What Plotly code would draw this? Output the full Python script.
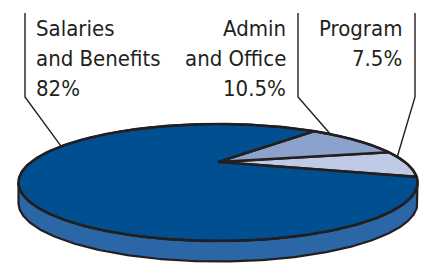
import numpy as np
import plotly.graph_objects as go

# ---- data ----
categories = ["Program", "Admin and Office", "Salaries and Benefits"]
values = [7.5, 10.5, 82.0]
label_lines = [["Program", "7.5%"],
               ["Admin", "and Office", "10.5%"],
               ["Salaries", "and Benefits", "82%"]]

# ---- styles / geometry ----
colors = ["#bfcbe6", "#8ba3cc", "#004f91"]
side_color = "#2b66a6"
ink = "#231f20"
W, H = 425, 263
cx = 218.0          # horizontal centre of pie
top_y, bot_y, apex_y = 124.0, 241.0, 162.0
depth = 20.5
start_deg = -15.3   # start angle of first slice (counter-clockwise)

# projective mapping of a unit circle onto the tilted pie face:
# y(v) = (a v + b)/(c v + 1) with y(0)=apex, y(1)=top, y(-1)=bottom
b = apex_y
c = (2 * b - top_y - bot_y) / (top_y - bot_y)
a = top_y * (c + 1) - b
left_x, right_x = 17.5, 416.5
k = (right_x - left_x) / 2 * np.sqrt(1 - c * c)


def proj(theta_deg):
    t = np.radians(theta_deg)
    u, v = np.cos(t), np.sin(t)
    den = c * v + 1
    return cx + k * u / den, (a * v + b) / den


fig = go.Figure()

# side wall (front half)
th_r = -np.degrees(np.arcsin(c))
th_l = 180 - th_r
arc = np.linspace(th_l, 360 + th_r, 200)
xs, ys = proj(arc)
wx = np.concatenate([xs, xs[::-1], xs[:1]])
wy = np.concatenate([ys, ys[::-1] + depth, ys[:1]])
fig.add_trace(go.Scatter(x=wx, y=wy, mode="lines", fill="toself",
                         fillcolor=side_color, line=dict(color=ink, width=2.2),
                         hoverinfo="skip", showlegend=False))

# top face slices
total = sum(values)
ang = start_deg
apx, apy = cx, apex_y
for val, col in zip(values, colors):
    span = val / total * 360
    th = np.linspace(ang, ang + span, max(int(span * 2), 4))
    px, py = proj(th)
    fig.add_trace(go.Scatter(x=np.concatenate([[apx], px, [apx]]),
                             y=np.concatenate([[apy], py, [apy]]),
                             mode="lines", fill="toself", fillcolor=col,
                             line=dict(color=ink, width=2.6),
                             hoverinfo="skip", showlegend=False))
    ang += span

# outer rim outline of the top face
th = np.linspace(0, 360, 400)
px, py = proj(th)
fig.add_trace(go.Scatter(x=px, y=py, mode="lines", line=dict(color=ink, width=2.2),
                         hoverinfo="skip", showlegend=False))

# labels and leader lines
font = dict(family="DejaVu Sans Condensed, Liberation Sans Narrow, sans-serif",
            size=22, color=ink)
label_x = [404, 288, 34]
label_align = ["right", "right", "left"]
leader_x = [415, 298, 25]
leader_ang = [6.0, 42.0, 160.0]
line_y0, line_dy = 28.0, 30.0
for lines, lx, al, ldx, lang in zip(label_lines, label_x, label_align, leader_x, leader_ang):
    for i, t in enumerate(lines):
        fig.add_annotation(x=lx, y=line_y0 + i * line_dy, xref="x", yref="y", text=t,
                           showarrow=False, xanchor=al, yanchor="middle", font=font)
    ex, ey = proj(lang)
    fig.add_shape(type="path", xref="x", yref="y",
                  path=f"M {ldx},13 L {ldx},97 L {ex:.1f},{ey:.1f}",
                  line=dict(color=ink, width=1.4))

fig.update_layout(width=W, height=H, margin=dict(l=0, r=0, t=0, b=0),
                  paper_bgcolor="white", plot_bgcolor="white",
                  xaxis=dict(range=[0, W], visible=False, fixedrange=True),
                  yaxis=dict(range=[H, 0], visible=False, fixedrange=True))
fig.write_html("out.html", config={"displayModeBar": False, "staticPlot": True},
               post_script="document.body.style.margin='0';document.body.style.overflow='hidden';")
